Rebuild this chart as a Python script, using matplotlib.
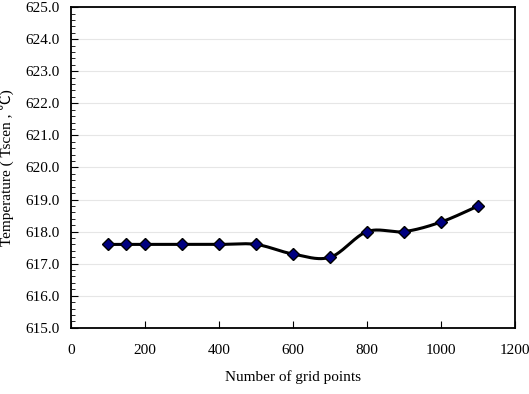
import numpy as np
import matplotlib
matplotlib.use('Agg')
from matplotlib import pyplot as plt
from matplotlib.ticker import MultipleLocator

grid_points = [100, 150, 200, 300, 400, 500, 600, 700, 800, 900, 1000, 1100]
temperature = [617.6, 617.6, 617.6, 617.6, 617.6, 617.6, 617.3, 617.2, 618.0, 618.0, 618.3, 618.8]

plt.rcParams['font.family'] = ['Liberation Serif', 'Noto Sans CJK TC']

fig = plt.figure(figsize=(5.29, 3.94), dpi=100)
ax = fig.add_axes([0.134, 0.168, 0.840, 0.814])

xmin, xmax, ymin, ymax = 0, 1200, 615.0, 625.0

# smooth line like a spreadsheet "smoothed line" (catmull-rom through the points)
px = (np.array(grid_points) - xmin) / (xmax - xmin) * 445
py = (np.array(temperature) - ymin) / (ymax - ymin) * 321
pts = np.column_stack([px, py])
pad = np.vstack([pts[0], pts, pts[-1]])
curve = []
t = np.linspace(0, 1, 30)[:, None]
for i in range(1, len(pad) - 2):
    p0, p1, p2, p3 = pad[i - 1], pad[i], pad[i + 1], pad[i + 2]
    c1 = p1 + (p2 - p0) / 6
    c2 = p2 - (p3 - p1) / 6
    seg = (1 - t) ** 3 * p1 + 3 * (1 - t) ** 2 * t * c1 + 3 * (1 - t) * t ** 2 * c2 + t ** 3 * p2
    curve.append(seg)
curve = np.vstack(curve)
sx = curve[:, 0] / 445 * (xmax - xmin) + xmin
sy = curve[:, 1] / 321 * (ymax - ymin) + ymin

ax.plot(sx, sy, color='black', linewidth=2.2, zorder=3)
ax.plot(grid_points, temperature, linestyle='none', marker='D', markersize=6.5,
        markerfacecolor='#000080', markeredgecolor='black', markeredgewidth=1, zorder=4)

ax.set_xlim(xmin, xmax)
ax.set_ylim(ymin, ymax)
ax.set_xticks(range(0, 1201, 200))
ax.set_yticks(np.arange(615, 625.1, 1))
ax.set_yticklabels(['%.1f' % v for v in np.arange(615, 625.1, 1)])
ax.yaxis.set_minor_locator(MultipleLocator(0.2))
ax.grid(axis='y', which='major', color='#e6e6e6', linewidth=0.8)
ax.set_axisbelow(True)

ax.tick_params(axis='both', which='both', direction='in', labelsize=11, colors='black')
ax.tick_params(axis='y', which='major', length=5, pad=8)
ax.tick_params(axis='y', which='minor', length=3)
ax.tick_params(axis='x', which='major', length=5, pad=12)
for s in ax.spines.values():
    s.set_linewidth(1.3)

ax.set_xlabel('Number of grid points', fontsize=11, labelpad=9)
ax.set_ylabel('Temperature ( Tscen , ℃)', fontsize=11, labelpad=8)

fig.savefig('out.png', dpi=100)
